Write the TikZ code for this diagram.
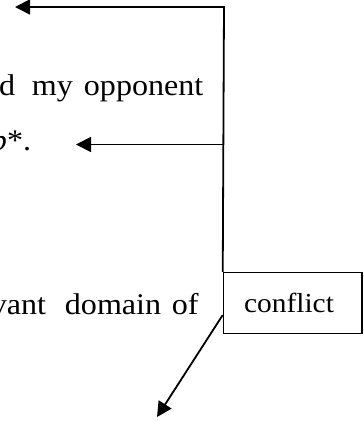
\documentclass[tikz,border=0pt]{standalone}
\usepackage{fontspec}
\setmainfont{Liberation Serif}[FakeStretch=1.07]
\usetikzlibrary{arrows.meta}
\begin{document}
\begin{tikzpicture}[x=1pt,y=-1pt,line width=1.8pt,
  arr/.style={-{Triangle[length=15pt,width=15pt]}},
  body/.style={font=\fontsize{30}{36}\selectfont,inner sep=0pt},
  boxstyle/.style={draw,line width=1.5pt,minimum width=138.5pt,minimum height=61pt,inner sep=0pt,font=\fontsize{27.5}{33}\selectfont}]
\useasboundingbox (0,0) rectangle (364,421);
\clip (0,0) rectangle (364,421);
% text fragments
\node[body,anchor=base east] (w1) at (16,95) {and};
\node[body,anchor=base west] (w2) at (31,95) {my};
\node[body,anchor=base west] (w3) at (83,95) {opponent};
\node[body,anchor=base east] (w4) at (32,150) {\textit{p}*.};
\node[body,anchor=base east] (w5) at (47,314) {relevant};
\node[body,anchor=base west] (w6) at (64,314) {domain};
\node[body,anchor=base west] (w7) at (171,314) {of};
% box
\node[boxstyle] (conflict) at (292.75,303) {\hspace*{-7.5pt}conflict};
% connectors
\coordinate (c1) at (224,7);
\coordinate (t1) at (15,7);
\coordinate (j2) at (224,144.5);
\coordinate (t2) at (76,144.5);
\coordinate (t3) at (157,417);
\draw[arr] (conflict.north west) -- (c1) -- (t1);
\draw[arr] (j2) -- (t2);
\draw[arr] ([yshift=-12pt]conflict.west) -- (t3);
\end{tikzpicture}
\end{document}
